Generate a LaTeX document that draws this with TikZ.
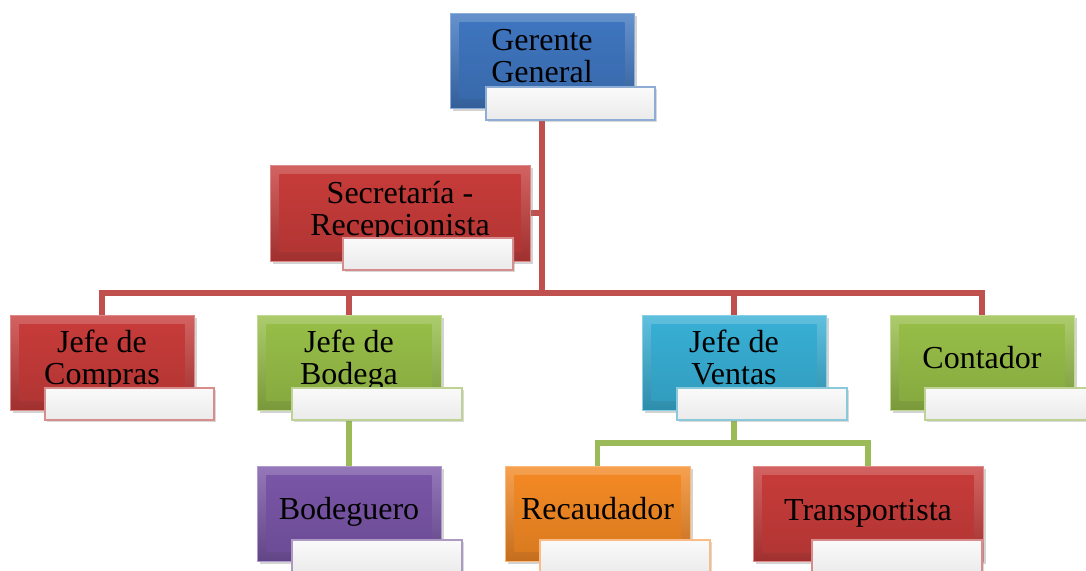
\documentclass[tikz,border=0pt]{standalone}
\usepackage{fontspec}
\setmainfont{Liberation Serif}
\usetikzlibrary{backgrounds,shadows}
\definecolor{oblue}{HTML}{4F81BD}
\definecolor{ored}{HTML}{C0504D}
\definecolor{ogreen}{HTML}{9BBB59}
\definecolor{opurple}{HTML}{8064A2}
\definecolor{oaqua}{HTML}{4BACC6}
\definecolor{oorange}{HTML}{F79646}
\definecolor{rred}{HTML}{C83C3A}
\definecolor{rblue}{HTML}{3F76C0}
\definecolor{rgreen}{HTML}{98BF48}
\definecolor{rpurple}{HTML}{7A56A8}
\definecolor{raqua}{HTML}{38B0D6}
\definecolor{rorange}{HTML}{F58A24}
\tikzset{
  orgbox/.style={rectangle, inner sep=0pt, align=center,
    font=\fontsize{24}{24}\selectfont,
    top color=#1!80!white, bottom color=#1!80!black,
    draw=#1!60!white, line width=0.6pt,
    drop shadow={opacity=0.35, shadow xshift=2pt, shadow yshift=-2pt},
    path picture={
      \shade[top color=#1, bottom color=#1!88!black]
        ([shift={(7pt,-7pt)}]path picture bounding box.north west) rectangle
        ([shift={(-7pt,7pt)}]path picture bounding box.south east);
    }},
  labbox/.style={rectangle, inner sep=0pt,
    top color=gray!4, bottom color=gray!16,
    draw=#1!65!white, line width=1pt,
    drop shadow={opacity=0.3, shadow xshift=1.5pt, shadow yshift=-1.5pt}},
  redline/.style={draw=ored, line width=4pt},
  greenline/.style={draw=ogreen, line width=4pt}
}
\begin{document}
\begin{tikzpicture}[x=0.75pt,y=-0.75pt]
\useasboundingbox (0,0) rectangle (1086,571);
\node[orgbox=rblue, minimum width=184*0.75pt, minimum height=95*0.75pt] (gg) at (542,60.5) {\strut Gerente\\General\strut};
\node[labbox=oblue, minimum width=169*0.75pt, minimum height=33*0.75pt] (ggl) at (570.5,103.5) {};

\node[orgbox=rred, minimum width=260*0.75pt, minimum height=96*0.75pt] (sr) at (400,213) {\strut Secretaría -\\Recepcionista\strut};
\node[labbox=ored, minimum width=170*0.75pt, minimum height=32*0.75pt] (srl) at (428,254) {};

\node[orgbox=rred, minimum width=184*0.75pt, minimum height=95*0.75pt] (jc) at (102,362.5) {\strut Jefe de\\Compras\strut};
\node[labbox=ored, minimum width=169*0.75pt, minimum height=32*0.75pt] (jcl) at (129.5,404) {};

\node[orgbox=rgreen, minimum width=184*0.75pt, minimum height=95*0.75pt] (jb) at (349,362.5) {\strut Jefe de\\Bodega\strut};
\node[labbox=ogreen, minimum width=170*0.75pt, minimum height=32*0.75pt] (jbl) at (377,404) {};

\node[orgbox=raqua, minimum width=184*0.75pt, minimum height=95*0.75pt] (jv) at (734,362.5) {\strut Jefe de\\Ventas\strut};
\node[labbox=oaqua, minimum width=170*0.75pt, minimum height=32*0.75pt] (jvl) at (762,404) {};

\node[orgbox=rgreen, minimum width=184*0.75pt, minimum height=95*0.75pt] (ct) at (982,362.5) {\strut Contador};
\node[labbox=ogreen, minimum width=165*0.75pt, minimum height=32*0.75pt] (ctl) at (1007.5,404) {};

\node[orgbox=rpurple, minimum width=184*0.75pt, minimum height=95*0.75pt] (bg) at (349,513.5) {\strut Bodeguero};
\node[labbox=opurple, minimum width=170*0.75pt, minimum height=34*0.75pt] (bgl) at (377,557) {};

\node[orgbox=rorange, minimum width=185*0.75pt, minimum height=95*0.75pt] (rc) at (597.5,513.5) {\strut Recaudador};
\node[labbox=oorange, minimum width=170*0.75pt, minimum height=34*0.75pt] (rcl) at (625,557) {};

\node[orgbox=rred, minimum width=230*0.75pt, minimum height=95*0.75pt] (tr) at (868,514) {\strut Transportista};
\node[labbox=ored, minimum width=170*0.75pt, minimum height=34*0.75pt] (trl) at (897,557) {};

\coordinate (hub) at (542,293);
\coordinate (vhub) at (734,443);

\begin{pgfonlayer}{background}
\draw[redline] (gg.center) -- (hub);
\draw[redline] (sr.east) -- (sr.east -| hub);
\draw[redline] (jc.center) |- (hub);
\draw[redline] (jb.center) |- (hub);
\draw[redline] (jv.center) |- (hub);
\draw[redline] (ct.center) |- (hub);
\draw[greenline] (jb.center) -- (bg.center);
\draw[greenline] (jv.center) -- (vhub);
\draw[greenline] (rc.center) |- (vhub);
\draw[greenline] (tr.center) |- (vhub);
\end{pgfonlayer}
\end{tikzpicture}
\end{document}
